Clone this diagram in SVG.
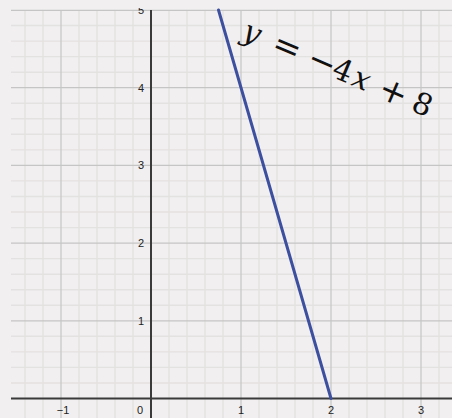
<svg xmlns="http://www.w3.org/2000/svg" width="452" height="418" viewBox="0 0 452 418">
  <style>
    .minor { stroke: #e4e1e1; stroke-width: 1.4; }
    .major { stroke: #c6c5c5; stroke-width: 1.2; }
    .axis { stroke: #3a3a3a; stroke-width: 2; }
    .lbl { font-family: "Liberation Sans", Arial, sans-serif; font-size: 11px; fill: #222; }
    .eq { font-family: "DejaVu Serif", "Liberation Serif", serif; font-size: 30px; fill: #111; }
    .it { font-style: italic; }
    .op { font-size: 34px; }
  </style>
  <defs>
    <clipPath id="plot"><rect x="11" y="8" width="441" height="410"/></clipPath>
  </defs>
  <rect x="0" y="0" width="452" height="418" fill="#f1efef"/>
  <g id="grid" clip-path="url(#plot)">
    <g id="minor-grid" class="minor">
      <line x1="25" y1="10" x2="25" y2="418"/>
      <line x1="43" y1="10" x2="43" y2="418"/>
      <line x1="79" y1="10" x2="79" y2="418"/>
      <line x1="97" y1="10" x2="97" y2="418"/>
      <line x1="115" y1="10" x2="115" y2="418"/>
      <line x1="133" y1="10" x2="133" y2="418"/>
      <line x1="169" y1="10" x2="169" y2="418"/>
      <line x1="187" y1="10" x2="187" y2="418"/>
      <line x1="205" y1="10" x2="205" y2="418"/>
      <line x1="223" y1="10" x2="223" y2="418"/>
      <line x1="259" y1="10" x2="259" y2="418"/>
      <line x1="277" y1="10" x2="277" y2="418"/>
      <line x1="295" y1="10" x2="295" y2="418"/>
      <line x1="313" y1="10" x2="313" y2="418"/>
      <line x1="349" y1="10" x2="349" y2="418"/>
      <line x1="367" y1="10" x2="367" y2="418"/>
      <line x1="385" y1="10" x2="385" y2="418"/>
      <line x1="403" y1="10" x2="403" y2="418"/>
      <line x1="439" y1="10" x2="439" y2="418"/>
      <line x1="11" y1="25.5" x2="452" y2="25.5"/>
      <line x1="11" y1="41.1" x2="452" y2="41.1"/>
      <line x1="11" y1="56.6" x2="452" y2="56.6"/>
      <line x1="11" y1="72.2" x2="452" y2="72.2"/>
      <line x1="11" y1="103.2" x2="452" y2="103.2"/>
      <line x1="11" y1="118.8" x2="452" y2="118.8"/>
      <line x1="11" y1="134.3" x2="452" y2="134.3"/>
      <line x1="11" y1="149.9" x2="452" y2="149.9"/>
      <line x1="11" y1="180.9" x2="452" y2="180.9"/>
      <line x1="11" y1="196.5" x2="452" y2="196.5"/>
      <line x1="11" y1="212.0" x2="452" y2="212.0"/>
      <line x1="11" y1="227.6" x2="452" y2="227.6"/>
      <line x1="11" y1="258.6" x2="452" y2="258.6"/>
      <line x1="11" y1="274.2" x2="452" y2="274.2"/>
      <line x1="11" y1="289.7" x2="452" y2="289.7"/>
      <line x1="11" y1="305.3" x2="452" y2="305.3"/>
      <line x1="11" y1="336.3" x2="452" y2="336.3"/>
      <line x1="11" y1="351.9" x2="452" y2="351.9"/>
      <line x1="11" y1="367.4" x2="452" y2="367.4"/>
      <line x1="11" y1="383.0" x2="452" y2="383.0"/>
    </g>
    <g id="major-grid" class="major">
      <line x1="61" y1="10" x2="61" y2="418"/>
      <line x1="241" y1="10" x2="241" y2="418"/>
      <line x1="331" y1="10" x2="331" y2="418"/>
      <line x1="421" y1="10" x2="421" y2="418"/>
      <line x1="11" y1="10.3" x2="452" y2="10.3"/>
      <line x1="11" y1="87.7" x2="452" y2="87.7"/>
      <line x1="11" y1="165.4" x2="452" y2="165.4"/>
      <line x1="11" y1="243.1" x2="452" y2="243.1"/>
      <line x1="11" y1="320.8" x2="452" y2="320.8"/>
    </g>
    <g id="axes" class="axis">
      <line x1="151" y1="10" x2="151" y2="418"/>
      <line x1="11" y1="398.5" x2="452" y2="398.5"/>
    </g>
    <g id="tick-labels" class="lbl">
      <text x="144" y="14" text-anchor="end">5</text>
      <text x="144" y="91.7" text-anchor="end">4</text>
      <text x="144" y="169.4" text-anchor="end">3</text>
      <text x="144" y="247.1" text-anchor="end">2</text>
      <text x="144" y="324.8" text-anchor="end">1</text>
      <text x="63" y="414" text-anchor="middle">−1</text>
      <text x="140" y="414" text-anchor="middle">0</text>
      <text x="241" y="414" text-anchor="middle">1</text>
      <text x="331" y="414" text-anchor="middle">2</text>
      <text x="421" y="414" text-anchor="middle">3</text>
    </g>
    <g id="connectors">
      <line id="graph-line" x1="218.5" y1="10" x2="331" y2="398.5" stroke="#3d4f9f" stroke-width="3" stroke-linecap="round"/>
    </g>
  </g>
  <g id="equation" transform="translate(240,38) rotate(23)">
    <text class="eq" text-anchor="middle"><tspan class="it" x="9">y</tspan><tspan class="op" x="47" dy="1">=</tspan><tspan class="op" x="85">−</tspan><tspan x="107.5" dy="-1">4</tspan><tspan class="it" x="128">x</tspan><tspan class="op" x="162.5" dy="1">+</tspan><tspan x="194" dy="-1">8</tspan></text>
  </g>
</svg>
